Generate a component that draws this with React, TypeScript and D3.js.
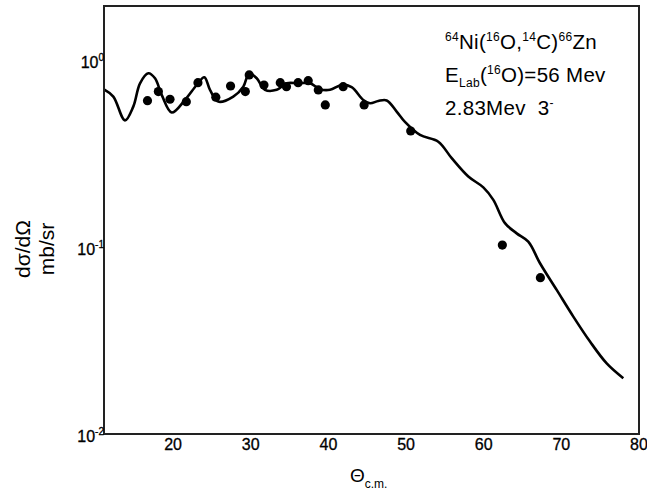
import React from "react";
import * as d3 from "d3";

const expAngle = [16.7, 18.1, 19.6, 21.7, 23.2, 25.5, 27.4, 29.3, 29.8, 31.7, 33.8, 34.6, 36.1, 37.4, 38.7, 39.6, 41.9, 44.6, 50.6, 62.4, 67.3];
const expValue = [0.612, 0.685, 0.623, 0.605, 0.765, 0.639, 0.734, 0.685, 0.841, 0.743, 0.765, 0.728, 0.765, 0.784, 0.699, 0.581, 0.728, 0.581, 0.421, 0.103, 0.0689];

const calcAngle = [11.14, 12.3, 13.8, 14.87, 15.74, 16.81, 17.67, 18.53, 19.82, 21.53, 23.04, 24.02, 24.75, 25.82, 27.75, 29.04, 29.81, 30.77, 31.83, 33.34, 34.63, 36.12, 37.63, 38.92, 40.21, 41.71, 42.99, 44.49, 45.36, 46.42, 47.51, 48.79, 49.86, 51.8, 54.15, 55.88, 58.02, 59.95, 61.24, 62.74, 64.25, 65.74, 67.25, 69.4, 71.54, 73.69, 75.84, 77.98];
const calcValue = [0.701, 0.644, 0.48, 0.569, 0.759, 0.859, 0.807, 0.658, 0.529, 0.618, 0.743, 0.818, 0.7, 0.605, 0.644, 0.728, 0.859, 0.807, 0.7, 0.7, 0.759, 0.759, 0.759, 0.705, 0.7, 0.743, 0.723, 0.618, 0.593, 0.61, 0.614, 0.535, 0.471, 0.401, 0.369, 0.301, 0.24, 0.21, 0.18, 0.135, 0.119, 0.1074, 0.0823, 0.0592, 0.0426, 0.0313, 0.0239, 0.0199];

const xTicks = [20, 30, 40, 50, 60, 70, 80];
const yTicks = [0.01, 0.1, 1];
const yTickExp = ["-2", "-1", "0"];

const W = 647;
const H = 492;
const FONT = "'Liberation Sans', Arial, sans-serif";

export default function App() {
  const x = d3.scaleLinear().domain([11.1, 80]).range([104, 639]);
  const y = d3.scaleLog().domain([0.01, 1.97]).range([434, 6]);

  const line = d3
    .line<number>()
    .x((_, i) => x(calcAngle[i]))
    .y((d) => y(d))
    .curve(d3.curveCatmullRom.alpha(0.5));

  const big = 20.5;
  const sup = 12;
  const ls = 0.3;

  return (
    <svg
      width={W}
      height={H}
      style={{ position: "absolute", left: 0, top: 0, background: "#fff" }}
      fontFamily={FONT}
    >
      <rect x={0} y={0} width={W} height={H} fill="#fff" />
      <path d={line(calcValue) || ""} fill="none" stroke="#000" strokeWidth={2.6} strokeLinejoin="round" />
      {expAngle.map((a, i) => (
        <circle key={i} cx={x(a)} cy={y(expValue[i])} r={4.6} fill="#000" />
      ))}
      <rect
        x={x.range()[0]}
        y={y.range()[1]}
        width={x.range()[1] - x.range()[0]}
        height={y.range()[0] - y.range()[1]}
        fill="none"
        stroke="#222"
        strokeWidth={2}
      />
      {xTicks.map((t) => (
        <text key={t} x={x(t)} y={450} textAnchor="middle" fontSize={16} fill="#000" stroke="#000" strokeWidth={0.3}>
          {t}
        </text>
      ))}
      {yTicks.map((t, i) => (
        <text key={t} x={104} y={y(t) + 7.5} textAnchor="end" fontSize={16} fill="#000" stroke="#000" strokeWidth={0.3}>
          10
          <tspan fontSize={10} dy={-7}>
            {yTickExp[i]}
          </tspan>
        </text>
      ))}
      <text x={30} y={249} transform="rotate(-90 30 249)" textAnchor="middle" fontSize={21} fill="#000">
        dσ/dΩ
      </text>
      <text x={54} y={249} transform="rotate(-90 54 249)" textAnchor="middle" fontSize={21} fill="#000">
        mb/sr
      </text>
      <text x={350} y={482} fontSize={19} fill="#000">
        Θ
        <tspan fontSize={12} dy={6}>c.m.</tspan>
      </text>
      <text x={445} y={49} fontSize={big} fill="#000" letterSpacing={ls}>
        <tspan fontSize={sup} dy={-8}>64</tspan>
        <tspan dy={8}>Ni(</tspan>
        <tspan fontSize={sup} dy={-8}>16</tspan>
        <tspan dy={8}>O,</tspan>
        <tspan fontSize={sup} dy={-8}>14</tspan>
        <tspan dy={8}>C)</tspan>
        <tspan fontSize={sup} dy={-8}>66</tspan>
        <tspan dy={8}>Zn</tspan>
      </text>
      <text x={445} y={82} fontSize={big} fill="#000" letterSpacing={ls}>
        E
        <tspan fontSize={sup} dy={5}>Lab</tspan>
        <tspan dy={-5}>(</tspan>
        <tspan fontSize={sup} dy={-8}>16</tspan>
        <tspan dy={8}>O)=56 Mev</tspan>
      </text>
      <text x={445} y={115} fontSize={big} fill="#000" letterSpacing={ls} style={{ whiteSpace: "pre" }}>
        {"2.83Mev  3"}
        <tspan fontSize={sup} dy={-8}>-</tspan>
      </text>
    </svg>
  );
}
